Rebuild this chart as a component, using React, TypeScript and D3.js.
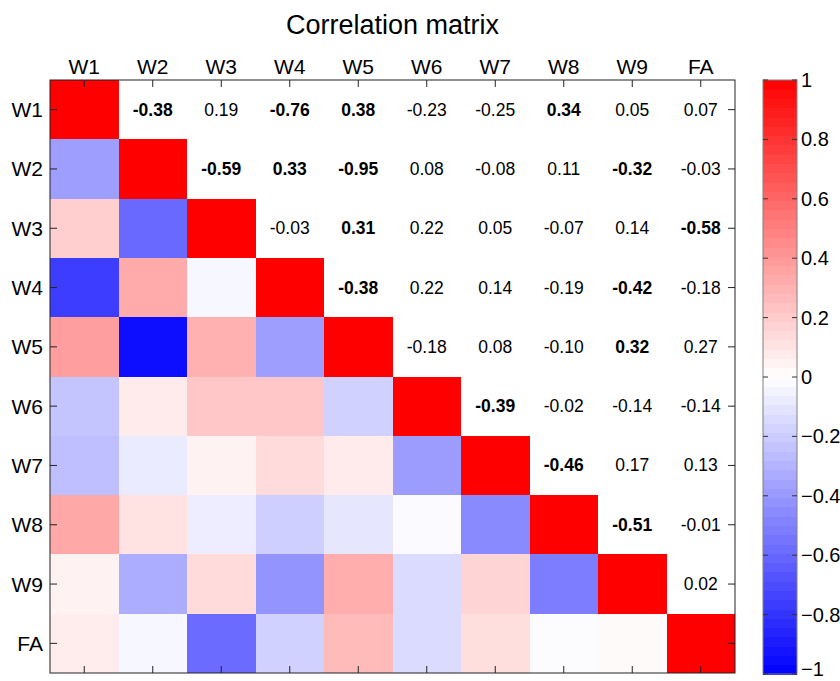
import React from "react";
import * as d3 from "d3";

const labels = ["W1", "W2", "W3", "W4", "W5", "W6", "W7", "W8", "W9", "FA"];

// Upper triangle rows: values for columns i+1..9
const upperValues: number[][] = [
  [-0.38, 0.19, -0.76, 0.38, -0.23, -0.25, 0.34, 0.05, 0.07],
  [-0.59, 0.33, -0.95, 0.08, -0.08, 0.11, -0.32, -0.03],
  [-0.03, 0.31, 0.22, 0.05, -0.07, 0.14, -0.58],
  [-0.38, 0.22, 0.14, -0.19, -0.42, -0.18],
  [-0.18, 0.08, -0.10, 0.32, 0.27],
  [-0.39, -0.02, -0.14, -0.14],
  [-0.46, 0.17, 0.13],
  [-0.51, -0.01],
  [0.02],
];

// Significant (bold) flags matching upperValues
const upperBold: boolean[][] = [
  [true, false, true, true, false, false, true, false, false],
  [true, true, true, false, false, false, true, false],
  [false, true, false, false, false, false, true],
  [true, false, false, false, true, false],
  [false, false, false, true, false],
  [true, false, false, false],
  [true, false, false],
  [true, false],
  [false],
];

const colorbarTicks = [-1, -0.8, -0.6, -0.4, -0.2, 0, 0.2, 0.4, 0.6, 0.8, 1];

const W = 840;
const H = 681;
const plot = { left: 50, top: 80, right: 735, bottom: 673 };
const cbar = { left: 763, right: 797, top: 80, bottom: 674 };

const color = d3
  .scaleLinear<string>()
  .domain([-1, 0, 1])
  .range(["rgb(0,0,255)", "rgb(255,255,255)", "rgb(255,0,0)"])
  .interpolate(d3.interpolateRgb);

export default function App() {
  const n = labels.length;
  const x = d3.scaleBand<string>().domain(labels).range([plot.left, plot.right]).padding(0);
  const y = d3.scaleBand<string>().domain(labels).range([plot.top, plot.bottom]).padding(0);
  const bw = x.bandwidth();
  const bh = y.bandwidth();

  const getVal = (i: number, j: number): number => {
    if (i === j) return 1;
    const a = Math.min(i, j);
    const b = Math.max(i, j);
    return upperValues[a][b - a - 1];
  };

  const cells: { i: number; j: number; v: number }[] = [];
  const texts: { i: number; j: number; v: number; bold: boolean }[] = [];
  for (let i = 0; i < n; i++) {
    for (let j = 0; j < n; j++) {
      if (j <= i) cells.push({ i, j, v: getVal(i, j) });
      else texts.push({ i, j, v: getVal(i, j), bold: upperBold[i][j - i - 1] });
    }
  }

  const cy = d3.scaleLinear().domain([-1, 1]).range([cbar.bottom, cbar.top]);
  const nSteps = 64;
  const steps = d3.range(nSteps).map((k) => {
    const v0 = -1 + (2 * k) / nSteps;
    const v1 = -1 + (2 * (k + 1)) / nSteps;
    return { v0, v1, c: color((v0 + v1) / 2) };
  });

  const fmt = (v: number) => (v < 0 ? "-" : "") + Math.abs(v).toFixed(2);
  const tickLen = 7;
  const font = "Liberation Sans, Arial, Helvetica, sans-serif";

  return (
    <svg
      width={W}
      height={H}
      style={{ position: "absolute", left: 0, top: 0, background: "#fff" }}
      fontFamily={font}
    >
      <rect x={0} y={0} width={W} height={H} fill="#fff" />
      <text x={(plot.left + plot.right) / 2} y={34} textAnchor="middle" fontSize={27} fill="#000">
        Correlation matrix
      </text>

      {/* cells */}
      <g shapeRendering="crispEdges">
        {cells.map((c) => (
          <rect
            key={`c${c.i}-${c.j}`}
            x={x(labels[c.j])}
            y={y(labels[c.i])}
            width={bw}
            height={bh}
            fill={color(c.v)}
          />
        ))}
      </g>

      {/* values */}
      {texts.map((t) => (
        <text
          key={`t${t.i}-${t.j}`}
          x={(x(labels[t.j]) as number) + bw / 2}
          y={(y(labels[t.i]) as number) + bh / 2}
          textAnchor="middle"
          dominantBaseline="central"
          fontSize={17.5}
          fontWeight={t.bold ? "bold" : "normal"}
          fill="#000"
        >
          {fmt(t.v)}
        </text>
      ))}

      {/* frame */}
      <rect
        x={plot.left}
        y={plot.top}
        width={plot.right - plot.left}
        height={plot.bottom - plot.top}
        fill="none"
        stroke="#222"
        strokeWidth={1}
      />

      {/* ticks */}
      <g stroke="#222" strokeWidth={1}>
        {labels.map((l) => {
          const cx = (x(l) as number) + bw / 2;
          const cyy = (y(l) as number) + bh / 2;
          return (
            <g key={`tk${l}`}>
              <line x1={cx} x2={cx} y1={plot.top} y2={plot.top + tickLen} />
              <line x1={cx} x2={cx} y1={plot.bottom} y2={plot.bottom - tickLen} />
              <line x1={plot.left} x2={plot.left + tickLen} y1={cyy} y2={cyy} />
              <line x1={plot.right} x2={plot.right - tickLen} y1={cyy} y2={cyy} />
            </g>
          );
        })}
      </g>

      {/* tick labels */}
      {labels.map((l) => (
        <text
          key={`xl${l}`}
          x={(x(l) as number) + bw / 2}
          y={plot.top - 6}
          textAnchor="middle"
          fontSize={21}
          fill="#000"
        >
          {l}
        </text>
      ))}
      {labels.map((l) => (
        <text
          key={`yl${l}`}
          x={plot.left - 7}
          y={(y(l) as number) + bh / 2}
          textAnchor="end"
          dominantBaseline="central"
          fontSize={21}
          fill="#000"
        >
          {l}
        </text>
      ))}

      {/* colorbar */}
      <g shapeRendering="crispEdges">
        {steps.map((s, k) => (
          <rect
            key={`cb${k}`}
            x={cbar.left}
            y={cy(s.v1)}
            width={cbar.right - cbar.left}
            height={cy(s.v0) - cy(s.v1) + 0.5}
            fill={s.c}
          />
        ))}
      </g>
      <rect
        x={cbar.left}
        y={cbar.top}
        width={cbar.right - cbar.left}
        height={cbar.bottom - cbar.top}
        fill="none"
        stroke="#808080"
        strokeWidth={1}
      />
      <g stroke="#333" strokeWidth={1}>
        {colorbarTicks.map((t) => (
          <g key={`cbt${t}`}>
            <line x1={cbar.left} x2={cbar.left + 5} y1={cy(t)} y2={cy(t)} />
            <line x1={cbar.right} x2={cbar.right - 5} y1={cy(t)} y2={cy(t)} />
          </g>
        ))}
      </g>
      {colorbarTicks.map((t) => (
        <text
          key={`cbl${t}`}
          x={cbar.right + 4}
          y={t === -1 ? cy(t) - 5 : cy(t)}
          dominantBaseline="central"
          fontSize={20}
          fill="#000"
        >
          {t === 0 ? "0" : d3.format("")(t)}
        </text>
      ))}
    </svg>
  );
}
